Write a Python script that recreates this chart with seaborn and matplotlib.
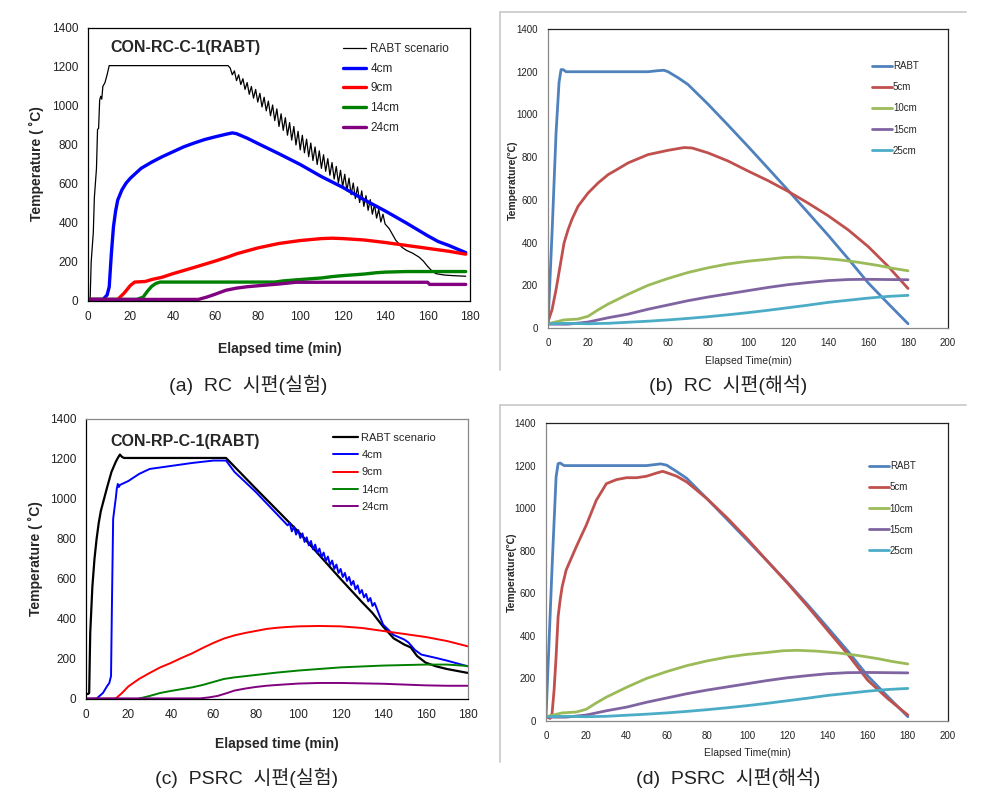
import numpy as np
import pandas as pd
import matplotlib.pyplot as plt
import matplotlib.ticker as mt
from matplotlib.lines import Line2D
import seaborn as sns

# ---------------- (a) RC experiment ----------------
a_rabt_t = [0, 1, 1.5, 2.5, 3, 4, 4.5, 5, 5.5, 6, 6.5, 7, 8, 9, 10, 66,
            67, 68, 69, 70, 71, 72, 73, 74, 75, 76, 77, 78, 79, 80, 81, 82, 83, 84, 85,
            86, 87, 88, 89, 90, 91, 92, 93, 94, 95, 96, 97, 98, 99, 100, 101, 102, 103,
            104, 105, 106, 107, 108, 109, 110, 111, 112, 113, 114, 115, 116, 117, 118,
            119, 120, 121, 122, 123, 124, 125, 126, 127, 128, 129, 130, 131, 132, 133,
            134, 135, 136, 137, 138, 139, 140, 142, 145, 148, 150, 153, 156, 158, 160,
            162, 164, 168, 172, 178]
a_rabt_v = [5, 5, 200, 350, 530, 680, 880, 885, 1030, 1050, 1035, 1100, 1120, 1160, 1207, 1207,
            1195, 1160, 1180, 1130, 1160, 1110, 1140, 1085, 1120, 1060, 1100, 1040, 1085, 1020,
            1065, 995, 1045, 975, 1025, 950, 1005, 925, 985, 895, 960, 875, 940, 850, 915, 825,
            895, 800, 870, 775, 850, 760, 830, 740, 810, 720, 790, 700, 770, 680, 750, 665, 730,
            645, 710, 625, 690, 605, 670, 585, 650, 565, 630, 545, 605, 525, 585, 505, 565, 485,
            540, 465, 520, 445, 495, 425, 470, 405, 445, 395, 370, 312, 275, 260, 245, 225, 205,
            178, 155, 140, 133, 130, 127]
a_4_t = [0, 7, 9, 10, 11, 12, 13, 14, 16, 18, 20, 25, 30, 35, 40, 45, 50, 55, 60, 65, 68,
         70, 75, 80, 90, 100, 110, 120, 130, 140, 150, 160, 165, 170, 178]
a_4_v = [8, 8, 30, 72, 240, 380, 460, 517, 570, 605, 630, 680, 712, 740, 765, 790, 810, 828,
         842, 855, 862, 858, 835, 808, 755, 700, 638, 583, 520, 462, 400, 335, 305, 285, 248]
a_9_t = [0, 14, 17, 20, 22, 27, 30, 35, 40, 50, 60, 66, 70, 80, 90, 100, 110, 115, 120, 130,
         140, 150, 160, 170, 178]
a_9_v = [8, 8, 40, 80, 97, 100, 110, 122, 140, 172, 205, 226, 242, 272, 295, 310, 320, 322,
         320, 313, 300, 285, 270, 255, 240]
a_14_t = [0, 23, 26, 28, 30, 32, 34, 40, 88, 92, 100, 110, 115, 120, 130, 136, 140, 150, 178]
a_14_v = [8, 8, 20, 50, 75, 90, 97, 97, 97, 103, 110, 118, 125, 130, 138, 145, 148, 151, 151]
a_24_t = [0, 52, 56, 60, 65, 70, 75, 80, 90, 98, 160, 161, 178]
a_24_v = [8, 8, 20, 35, 55, 66, 73, 78, 87, 96, 96, 85, 85]

# ---------------- (c) PSRC experiment ----------------
c_rabt_t = [0, 1, 1.5, 2, 3, 4, 5, 6, 7, 8, 10, 12, 14, 15, 16, 17, 18, 66, 80, 100, 120,
            130, 135, 140, 145, 150, 153, 156, 160, 165, 170, 180]
c_rabt_v = [25, 25, 30, 330, 560, 700, 800, 880, 940, 980, 1060, 1135, 1185, 1205, 1222,
            1210, 1205, 1205, 1052, 837, 600, 485, 430, 362, 303, 272, 258, 215, 182, 163,
            150, 130]
c_4_t = [0, 5, 8, 10, 11, 11.8, 12.2, 12.8, 13.5, 14, 14.5, 15, 15.5, 16, 18, 20, 25, 30,
         40, 50, 60, 66, 70, 80, 95, 96, 97, 98, 99, 100, 101, 102, 103, 104, 105, 106, 107,
         108, 109, 110, 111, 112, 113, 114, 115, 116, 117, 118, 119, 120, 121, 122, 123, 124,
         125, 126, 127, 128, 129, 130, 131, 132, 133, 134, 135, 136, 140, 145, 150, 152, 155,
         158, 165, 170, 180]
c_4_v = [0, 2, 30, 65, 80, 115, 450, 900, 960, 1000, 1050, 1075, 1060, 1070, 1080, 1090,
         1125, 1150, 1165, 1180, 1192, 1192, 1135, 1035, 868, 880, 838, 862, 822, 845, 805,
         828, 785, 808, 768, 790, 748, 772, 730, 752, 710, 732, 690, 712, 670, 692, 650, 672,
         630, 650, 610, 630, 590, 610, 570, 590, 548, 568, 528, 545, 508, 525, 488, 505, 465,
         480, 372, 320, 297, 282, 245, 222, 205, 192, 163]
c_9_t = [0, 14, 17, 20, 25, 30, 35, 40, 45, 50, 55, 60, 65, 70, 75, 80, 85, 90, 95, 100,
         110, 120, 130, 140, 150, 160, 170, 180]
c_9_v = [0, 2, 30, 63, 100, 130, 158, 180, 205, 228, 255, 280, 302, 318, 330, 340, 350, 356,
         360, 363, 365, 363, 355, 340, 325, 310, 290, 263]
c_14_t = [25, 30, 35, 40, 50, 55, 60, 65, 70, 80, 90, 100, 120, 140, 160, 170, 180]
c_14_v = [2, 15, 30, 40, 58, 70, 85, 100, 108, 120, 132, 142, 158, 167, 172, 172, 165]
c_24_t = [0, 54, 58, 62, 66, 70, 75, 80, 85, 90, 100, 110, 120, 130, 140, 150, 160, 170, 180]
c_24_v = [3, 3, 8, 15, 28, 42, 52, 60, 66, 70, 77, 80, 80, 78, 76, 72, 68, 66, 66]

# ---------------- (b) RC analysis ----------------
b_rabt_t = [0, 2, 4, 5.5, 6.5, 7.5, 9, 50, 55, 58, 60, 65, 70, 80, 90, 100, 110, 120, 130,
            140, 150, 160, 170, 180]
b_rabt_v = [20, 445, 913, 1150, 1210, 1210, 1200, 1200, 1205, 1207, 1200, 1172, 1140, 1048,
            950, 850, 748, 645, 540, 435, 325, 212, 115, 20]
b_5_t = [0, 2, 4, 6, 8, 10, 12, 15, 20, 25, 30, 35, 40, 50, 60, 68, 72, 80, 90, 100, 110,
         120, 130, 140, 150, 160, 170, 180]
b_5_v = [30, 86, 180, 289, 398, 460, 510, 570, 632, 679, 718, 745, 773, 812, 832, 845, 843,
         820, 782, 735, 690, 640, 585, 526, 460, 382, 289, 185]
sim_10_t = [0, 5, 8, 15, 20, 25, 30, 40, 50, 60, 70, 80, 90, 100, 110, 118, 125, 135, 145,
            155, 165, 172, 180]
sim_10_v = [20, 31, 38, 42, 55, 85, 112, 158, 200, 232, 260, 282, 300, 313, 322, 330, 332,
            328, 320, 308, 293, 280, 268]
sim_15_t = [0, 10, 20, 30, 40, 50, 60, 70, 80, 90, 100, 110, 120, 130, 140, 150, 160, 170, 180]
sim_15_v = [18, 18, 28, 48, 65, 88, 108, 128, 145, 160, 175, 190, 203, 213, 222, 227, 228,
            227, 226]
sim_25_t = [0, 10, 20, 30, 40, 50, 60, 70, 80, 90, 100, 110, 120, 130, 140, 150, 160, 170, 180]
sim_25_v = [20, 22, 20, 22, 27, 32, 38, 45, 53, 62, 72, 83, 95, 107, 120, 130, 140, 148, 153]

# ---------------- (d) PSRC analysis ----------------
d_rabt_t = [0, 1, 3, 5, 6, 7, 9, 50, 57, 60, 65, 70, 80, 90, 100, 110, 120, 130, 140, 150,
            160, 170, 180]
d_rabt_v = [20, 255, 724, 1147, 1209, 1212, 1200, 1200, 1208, 1202, 1172, 1140, 1045, 948,
            850, 752, 652, 548, 440, 330, 212, 115, 20]
d_5_t = [0, 2, 3, 4, 5, 6, 7, 8, 10, 15, 20, 25, 30, 35, 40, 45, 50, 55, 58, 60, 65, 70, 80,
         90, 100, 110, 120, 130, 140, 150, 160, 170, 180]
d_5_v = [20, 12, 36, 145, 302, 490, 568, 630, 709, 818, 920, 1037, 1115, 1134, 1143, 1143,
         1150, 1165, 1173, 1167, 1150, 1123, 1045, 955, 857, 752, 649, 540, 427, 315, 192, 105, 28]

exp_labels = ['RABT scenario', '4cm', '9cm', '14cm', '24cm']
exp_colors = ['black', '#0000ff', '#ff0000', '#008000', '#800080']
sim_labels = ['RABT', '5cm', '10cm', '15cm', '25cm']
sim_colors = ['#4f81bd', '#c0504d', '#9bbb59', '#8064a2', '#4bacc6']

sns.set_style('white')
plt.rcParams['font.family'] = ['Liberation Sans', 'Noto Sans CJK KR', 'DejaVu Sans']

fig = plt.figure(figsize=(10.01, 7.95), dpi=100)
ax_a = fig.add_axes([0.0879, 0.6214, 0.3816, 0.3434])
ax_b = fig.add_axes([0.5475, 0.5874, 0.3996, 0.3761])
ax_c = fig.add_axes([0.0859, 0.1208, 0.3816, 0.3522])
ax_d = fig.add_axes([0.5455, 0.0931, 0.4016, 0.3748])


def draw(ax, series, colors, labels, widths):
    for (t, v), c, lab, lw in zip(series, colors, labels, widths):
        sns.lineplot(x=t, y=v, ax=ax, color=c, linewidth=lw, label=lab,
                     sort=False, estimator=None)


draw(ax_a, [(a_rabt_t, a_rabt_v), (a_4_t, a_4_v), (a_9_t, a_9_v), (a_14_t, a_14_v),
            (a_24_t, a_24_v)], exp_colors, exp_labels, [0.9, 2.4, 2.4, 2.4, 2.4])
draw(ax_c, [(c_rabt_t, c_rabt_v), (c_4_t, c_4_v), (c_9_t, c_9_v), (c_14_t, c_14_v),
            (c_24_t, c_24_v)], exp_colors, exp_labels, [1.6, 1.4, 1.4, 1.4, 1.4])
draw(ax_b, [(b_rabt_t, b_rabt_v), (b_5_t, b_5_v), (sim_10_t, sim_10_v), (sim_15_t, sim_15_v),
            (sim_25_t, sim_25_v)], sim_colors, sim_labels, [2.0] * 5)
draw(ax_d, [(d_rabt_t, d_rabt_v), (d_5_t, d_5_v), (sim_10_t, sim_10_v), (sim_15_t, sim_15_v),
            (sim_25_t, sim_25_v)], sim_colors, sim_labels, [2.0] * 5)

# experiment panels
for ax, title, xminor, tx, ty in [(ax_a, 'CON-RC-C-1(RABT)', 5, 0.058, 0.927),
                                  (ax_c, 'CON-RP-C-1(RABT)', 10, 0.063, 0.921)]:
    ax.set_xlim(0, 180)
    ax.set_ylim(0, 1400)
    ax.xaxis.set_major_locator(mt.MultipleLocator(20))
    ax.xaxis.set_minor_locator(mt.MultipleLocator(xminor))
    ax.yaxis.set_major_locator(mt.MultipleLocator(200))
    ax.yaxis.set_minor_locator(mt.MultipleLocator(100))
    ax.tick_params(axis='x', which='major', direction='in', length=4, width=0.8,
                   labelsize=8.5, pad=7, colors='black', labelcolor='#222')
    ax.tick_params(axis='x', which='minor', direction='in', length=3, width=0.8)
    ax.tick_params(axis='y', which='major', direction='out', length=4, width=0.8,
                   labelsize=8.5, pad=3, labelcolor='#222')
    ax.tick_params(axis='y', which='minor', direction='out', length=2.5, width=0.8)
    ax.set_xlabel('Elapsed time (min)', fontsize=10, fontweight='bold')
    ax.set_ylabel('Temperature ( ˚C)', fontsize=10, fontweight='bold')
    ax.text(tx, ty, title, transform=ax.transAxes, fontsize=11.5, fontweight='bold',
            va='center', ha='left')
    for s in ax.spines.values():
        s.set_color('black')
        s.set_linewidth(0.9)

ax_c.spines['top'].set_color('#888888')
ax_c.spines['right'].set_color('#888888')

ax_a.xaxis.set_label_coords(0.503, -0.176)
ax_a.yaxis.set_label_coords(-0.136, 0.505)
ax_c.xaxis.set_label_coords(0.5, -0.161)
ax_c.yaxis.set_label_coords(-0.131, 0.5)

ax_a.legend(loc='upper left', bbox_to_anchor=(0.668, 0.945), frameon=False, fontsize=8.5,
            handlelength=1.95, handletextpad=0.35, labelspacing=0.65, borderpad=0,
            borderaxespad=0)
ax_c.legend(loc='upper left', bbox_to_anchor=(0.647, 0.95), frameon=False, fontsize=8,
            handlelength=2.25, handletextpad=0.3, labelspacing=0.65, borderpad=0,
            borderaxespad=0)

# analysis panels
for ax in [ax_b, ax_d]:
    ax.set_xlim(0, 200)
    ax.set_ylim(0, 1400)
    ax.xaxis.set_major_locator(mt.MultipleLocator(20))
    ax.yaxis.set_major_locator(mt.MultipleLocator(200))
    ax.tick_params(axis='both', which='major', direction='out', length=4, width=0.8,
                   labelsize=7, colors='#888888', labelcolor='#222')
    ax.set_xlabel('Elapsed Time(min)', fontsize=7.5)
    ax.set_ylabel('Temperature(℃)', fontsize=7.5, fontweight='bold')
    for side in ['left', 'bottom']:
        ax.spines[side].set_color('#888888')
    for side in ['top', 'right']:
        ax.spines[side].set_color('#222222')
    for s in ax.spines.values():
        s.set_linewidth(0.9)

ax_b.xaxis.set_label_coords(0.5, -0.11)
ax_b.yaxis.set_label_coords(-0.088, 0.495)
ax_d.xaxis.set_label_coords(0.5, -0.107)
ax_d.yaxis.set_label_coords(-0.085, 0.5)

ax_b.legend(loc='upper left', bbox_to_anchor=(0.81, 0.893), frameon=False, fontsize=7,
            handlelength=2.05, handletextpad=0.1, labelspacing=1.15, borderpad=0,
            borderaxespad=0)
ax_d.legend(loc='upper left', bbox_to_anchor=(0.803, 0.872), frameon=False, fontsize=7,
            handlelength=2.05, handletextpad=0.1, labelspacing=1.15, borderpad=0,
            borderaxespad=0)

for ax in [ax_a, ax_b, ax_c, ax_d]:
    ax.xaxis.label.set_va('center')
    ax.yaxis.label.set_va('center')

# captions
captions = ['(a)  RC  시편(실험)', '(b)  RC  시편(해석)',
            '(c)  PSRC  시편(실험)', '(d)  PSRC  시편(해석)']
cap_pos = [(0.2478, 0.5157), (0.7273, 0.5157), (0.2468, 0.0214), (0.7273, 0.0214)]
for txt, (x, y) in zip(captions, cap_pos):
    fig.text(x, y, txt, ha='center', va='center', fontsize=14, color='#222')

# light grey frame lines around the analysis panels
def px(x, y):
    return x / 1001, 1 - y / 795

for (x0, y0), (x1, y1) in [((500, 12), (966, 12)), ((500, 12), (500, 370)),
                           ((500, 405), (966, 405)), ((500, 405), (500, 762))]:
    p0, p1 = px(x0, y0), px(x1, y1)
    fig.add_artist(Line2D([p0[0], p1[0]], [p0[1], p1[1]], transform=fig.transFigure,
                          color='#c8c8c8', linewidth=1.2))

plt.savefig('out.png', dpi=100)
